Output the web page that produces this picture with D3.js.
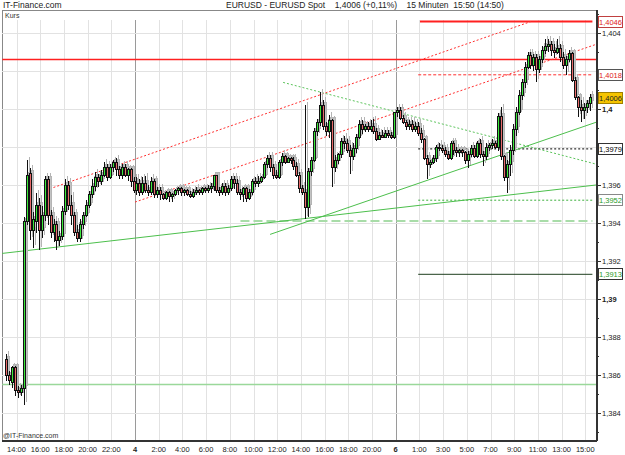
<!DOCTYPE html>
<html lang="de">
<head>
<meta charset="utf-8">
<title>EURUSD 15 Minuten</title>
<script src="https://d3js.org/d3.v7.min.js"></script>
<style>
  body { margin: 0; background: #fff; }
  text { font-family: "Liberation Sans", Arial, sans-serif; }
</style>
</head>
<body>
<script>
// 15-minute bars, first bar starts day 3 13:00 (axis hours, weekend gap removed)
var barStart = 13, barStep = 0.25;

var opens = [1.3868,1.3860,1.3856,1.3864,1.3852,1.3851,1.3853,1.3941,1.3966,1.3936,
 1.3941,1.3949,1.3936,1.3944,1.3963,1.3944,1.3935,1.3939,1.3931,1.3933,
 1.3946,1.3960,1.3949,1.3944,1.3935,1.3932,1.3939,1.3944,1.3949,1.3955,
 1.3959,1.3964,1.3962,1.3965,1.3969,1.3964,1.3969,1.3972,1.3968,1.3965,
 1.3969,1.3965,1.3968,1.3962,1.3957,1.3961,1.3956,1.3961,1.3957,1.3956,
 1.3962,1.3955,1.3957,1.3955,1.3953,1.3956,1.3954,1.3955,1.3957,1.3958,
 1.3956,1.3957,1.3955,1.3954,1.3956,1.3957,1.3956,1.3958,1.3957,1.3958,
 1.3959,1.3965,1.3957,1.3956,1.3959,1.3956,1.3958,1.3963,1.3961,1.3956,
 1.3955,1.3958,1.3953,1.3956,1.3962,1.3961,1.3962,1.3964,1.3971,1.3974,
 1.3969,1.3965,1.3964,1.3972,1.3975,1.3972,1.3974,1.3973,1.3970,1.3965,
 1.3958,1.3956,1.3948,1.3967,1.3973,1.3988,1.3993,1.4002,1.3991,1.3988,
 1.3994,1.3969,1.3973,1.3976,1.3983,1.3982,1.3978,1.3975,1.3979,1.3985,
 1.3992,1.3989,1.3991,1.3989,1.3991,1.3988,1.3984,1.3986,1.3985,1.3987,
 1.3986,1.3985,1.3998,1.3999,1.3995,1.3993,1.3991,1.3992,1.3989,1.3991,
 1.3987,1.3984,1.3974,1.3971,1.3972,1.3974,1.3980,1.3979,1.3978,1.3976,
 1.3974,1.3982,1.3978,1.3977,1.3978,1.3977,1.3973,1.3976,1.3979,1.3975,
 1.3982,1.3976,1.3975,1.3980,1.3981,1.3982,1.3980,1.3996,1.3975,1.3964,
 1.3971,1.3978,1.3989,1.3998,1.4007,1.4014,1.4022,1.4028,1.4023,1.4027,
 1.4021,1.4026,1.4031,1.4033,1.4034,1.4031,1.4030,1.4032,1.4027,1.4023,
 1.4026,1.4029,1.4015,1.4006,1.4001,1.3999,1.4001,1.4003];

var highs = [1.3871,1.3862,1.3865,1.3865,1.3854,1.3855,1.3943,1.3973,1.3969,1.3946,
 1.3956,1.3953,1.3949,1.3965,1.3965,1.3947,1.3942,1.3941,1.3936,1.3949,
 1.3963,1.3962,1.3955,1.3946,1.3939,1.3942,1.3946,1.3952,1.3957,1.3963,
 1.3967,1.3966,1.3968,1.3972,1.3971,1.3971,1.3973,1.3974,1.3970,1.3971,
 1.3971,1.3969,1.3969,1.3964,1.3964,1.3963,1.3964,1.3965,1.3960,1.3964,
 1.3963,1.3959,1.3959,1.3956,1.3957,1.3957,1.3956,1.3958,1.3959,1.3959,
 1.3958,1.3958,1.3957,1.3958,1.3959,1.3958,1.3959,1.3959,1.3960,1.3961,
 1.3965,1.3965,1.3959,1.3961,1.3961,1.3960,1.3965,1.3965,1.3963,1.3958,
 1.3959,1.3959,1.3958,1.3963,1.3964,1.3965,1.3965,1.3972,1.3976,1.3976,
 1.3971,1.3968,1.3973,1.3977,1.3976,1.3975,1.3975,1.3975,1.3972,1.3967,
 1.3960,1.4002,1.3969,1.3975,1.3990,1.3995,1.4009,1.4005,1.3993,1.3997,
 1.3995,1.3976,1.3977,1.3985,1.3986,1.3984,1.3981,1.3982,1.3987,1.3994,
 1.3994,1.3992,1.3993,1.3994,1.3995,1.3990,1.3988,1.3989,1.3989,1.3989,
 1.3988,1.3998,1.4001,1.4001,1.3997,1.3994,1.3994,1.3994,1.3993,1.3993,
 1.3990,1.3985,1.3976,1.3973,1.3976,1.3981,1.3982,1.3981,1.3980,1.3978,
 1.3983,1.3983,1.3980,1.3979,1.3979,1.3978,1.3978,1.3981,1.3981,1.3983,
 1.3984,1.3978,1.3982,1.3982,1.3984,1.3983,1.3998,1.4001,1.3976,1.3973,
 1.3981,1.3992,1.4001,1.4010,1.4016,1.4025,1.4030,1.4030,1.4029,1.4029,
 1.4028,1.4033,1.4037,1.4037,1.4036,1.4034,1.4037,1.4034,1.4030,1.4028,
 1.4031,1.4030,1.4017,1.4007,1.4005,1.4003,1.4005,1.4008];

var lows = [1.3857,1.3855,1.3853,1.3849,1.3848,1.3849,1.3844,1.3939,1.3931,1.3927,
 1.3935,1.3926,1.3932,1.3941,1.3939,1.3932,1.3930,1.3926,1.3928,1.3931,
 1.3944,1.3947,1.3939,1.3933,1.3930,1.3930,1.3937,1.3943,1.3948,1.3953,
 1.3957,1.3959,1.3960,1.3964,1.3962,1.3963,1.3967,1.3965,1.3963,1.3963,
 1.3964,1.3962,1.3959,1.3956,1.3955,1.3954,1.3955,1.3956,1.3954,1.3955,
 1.3953,1.3953,1.3952,1.3952,1.3952,1.3951,1.3951,1.3954,1.3955,1.3954,
 1.3954,1.3954,1.3953,1.3953,1.3955,1.3955,1.3955,1.3956,1.3956,1.3956,
 1.3957,1.3956,1.3954,1.3955,1.3954,1.3955,1.3957,1.3958,1.3955,1.3952,
 1.3951,1.3951,1.3952,1.3955,1.3959,1.3959,1.3961,1.3963,1.3969,1.3967,
 1.3963,1.3963,1.3963,1.3970,1.3971,1.3972,1.3971,1.3968,1.3964,1.3956,
 1.3955,1.3942,1.3943,1.3965,1.3972,1.3986,1.3991,1.3989,1.3986,1.3985,
 1.3959,1.3967,1.3971,1.3974,1.3979,1.3977,1.3966,1.3973,1.3977,1.3984,
 1.3987,1.3988,1.3988,1.3988,1.3987,1.3983,1.3984,1.3985,1.3985,1.3985,
 1.3984,1.3984,1.3996,1.3994,1.3992,1.3989,1.3989,1.3988,1.3988,1.3986,
 1.3982,1.3973,1.3963,1.3969,1.3971,1.3972,1.3978,1.3977,1.3975,1.3973,
 1.3973,1.3976,1.3975,1.3975,1.3975,1.3971,1.3969,1.3975,1.3974,1.3974,
 1.3974,1.3970,1.3973,1.3978,1.3979,1.3979,1.3978,1.3973,1.3962,1.3956,
 1.3965,1.3976,1.3986,1.3997,1.4005,1.4011,1.4021,1.4021,1.4020,1.4014,
 1.4019,1.4024,1.4029,1.4030,1.4028,1.4027,1.4029,1.4025,1.4021,1.4018,
 1.4025,1.4014,1.4005,1.3996,1.3993,1.3995,1.3998,1.3999];

var closes = [1.3860,1.3857,1.3864,1.3852,1.3851,1.3853,1.3941,1.3965,1.3936,1.3942,
 1.3949,1.3936,1.3944,1.3963,1.3944,1.3935,1.3939,1.3931,1.3933,1.3946,
 1.3960,1.3949,1.3944,1.3935,1.3932,1.3939,1.3944,1.3949,1.3955,1.3959,
 1.3964,1.3962,1.3965,1.3969,1.3964,1.3969,1.3972,1.3968,1.3965,1.3969,
 1.3965,1.3968,1.3962,1.3957,1.3961,1.3956,1.3961,1.3957,1.3956,1.3962,
 1.3955,1.3957,1.3955,1.3953,1.3956,1.3954,1.3955,1.3957,1.3958,1.3956,
 1.3957,1.3955,1.3954,1.3956,1.3957,1.3956,1.3958,1.3957,1.3958,1.3959,
 1.3965,1.3957,1.3956,1.3959,1.3956,1.3958,1.3963,1.3961,1.3956,1.3955,
 1.3958,1.3953,1.3956,1.3962,1.3961,1.3962,1.3964,1.3971,1.3974,1.3969,
 1.3965,1.3964,1.3972,1.3975,1.3972,1.3974,1.3973,1.3970,1.3965,1.3958,
 1.3956,1.3948,1.3967,1.3973,1.3988,1.3993,1.4002,1.3991,1.3988,1.3994,
 1.3969,1.3973,1.3976,1.3983,1.3982,1.3978,1.3975,1.3979,1.3985,1.3992,
 1.3989,1.3991,1.3989,1.3991,1.3988,1.3984,1.3986,1.3985,1.3987,1.3986,
 1.3985,1.3998,1.3999,1.3995,1.3993,1.3991,1.3992,1.3989,1.3991,1.3987,
 1.3984,1.3974,1.3971,1.3972,1.3974,1.3980,1.3979,1.3978,1.3976,1.3974,
 1.3982,1.3978,1.3977,1.3978,1.3977,1.3973,1.3976,1.3979,1.3975,1.3982,
 1.3976,1.3975,1.3980,1.3981,1.3982,1.3980,1.3996,1.3975,1.3964,1.3971,
 1.3978,1.3989,1.3998,1.4007,1.4014,1.4022,1.4028,1.4023,1.4027,1.4021,
 1.4026,1.4031,1.4033,1.4034,1.4031,1.4030,1.4032,1.4027,1.4023,1.4026,
 1.4029,1.4015,1.4006,1.4001,1.3999,1.4001,1.4003,1.4006];

// x axis labels (axis hours -> label)
var xTickHours  = [14,16,18,20,22,24,26,28,30,32,34,36,38,40,42,44,46,48,50,52,54,56,58,60,62];
var xTickLabels = ["14:00","16:00","18:00","20:00","22:00","4","2:00","4:00","6:00","8:00","10:00","12:00",
                   "14:00","16:00","18:00","20:00","6","1:00","3:00","5:00","7:00","9:00","11:00","13:00","15:00"];
var dayBreaks = [24, 46];

// y axis
var yMajor = [1.384,1.386,1.388,1.39,1.392,1.394,1.396,1.398,1.4,1.402,1.404];
var yMinor = [1.383,1.385,1.387,1.389,1.391,1.393,1.395,1.397,1.399,1.401,1.403,1.405];

// drawn trend lines: [hour1, price1, hour2, price2]
var trendLines = [
  {name: "channelTop",    p: [16.8, 1.3958, 57.4, 1.4046], color: "#ff3030", dash: "2,2", w: 1},
  {name: "channelBottom", p: [24.0, 1.3951, 62.9, 1.4034], color: "#ff3030", dash: "2,2", w: 1},
  {name: "greenFalling",  p: [36.5, 1.4014, 62.9, 1.3971], color: "#5cc45c", dash: "2,2", w: 1},
  {name: "greenSteep",    p: [35.4, 1.3934, 62.9, 1.3993], color: "#4cbf4c", dash: null,  w: 1},
  {name: "greenLong",     p: [12.8, 1.3924, 62.9, 1.3960], color: "#4cbf4c", dash: null,  w: 1}
];

// horizontal lines: price, start hour, end hour
var levels = [
  {price: 1.4046, from: 48.05, to: 62.6, color: "#ff2020", dash: null,  w: 2,   label: "1,4046", text: "#e02020", border: "#c04040"},
  {price: 1.4026, from: 12.8,  to: 62.9, color: "#ff2020", dash: null,  w: 1.5, label: null},
  {price: 1.4018, from: 47.9,  to: 62.6, color: "#ff3030", dash: "3,2", w: 1,   label: "1,4018", text: "#e02020", border: "#555"},
  {price: 1.3979, from: 47.9,  to: 62.6, color: "#000",    dash: "2,2", w: 1,   label: "1,3979", text: "#000",    border: "#333"},
  {price: 1.3952, from: 47.9,  to: 62.6, color: "#3cb03c", dash: "2,2", w: 1,   label: "1,3952", text: "#2a9a2a", border: "#888"},
  {price: 1.3941, from: 32.9,  to: 62.6, color: "#a8dca8", dash: "9,4", w: 2,   label: null},
  {price: 1.3913, from: 47.9,  to: 62.6, color: "#1f3f1f", dash: null,  w: 1,   label: "1,3913", text: "#2a9a2a", border: "#333"},
  {price: 1.3855, from: 12.8,  to: 62.9, color: "#9ad89a", dash: null,  w: 1.5, label: null}
];
var lastPrice = 1.4006;

var W = 625, H = 455;
var plot = {left: 2, right: 596, top: 10, bottom: 440};

var x = d3.scaleLinear().domain([24, 62]).range([135, 585.3]);
var y = d3.scaleLinear().domain([1.384, 1.404]).range([413, 33]);

var svg = d3.select("body").append("svg")
    .attr("width", W).attr("height", H)
    .style("display", "block");

svg.append("rect").attr("width", W).attr("height", H).attr("fill", "#fff");

svg.append("defs").append("clipPath").attr("id", "clip")
  .append("rect")
    .attr("x", plot.left).attr("y", plot.top + 10)
    .attr("width", plot.right - plot.left).attr("height", plot.bottom - plot.top - 10);

// header texts
svg.append("text").attr("x", 3).attr("y", 8).attr("font-size", 8.5).attr("fill", "#222")
    .text("IT-Finance.com");
svg.append("text").attr("x", 226).attr("y", 8).attr("font-size", 8.5).attr("fill", "#222")
    .attr("xml:space", "preserve")
    .text("EURUSD - EURUSD Spot    1,4006 (+0,11%)    15 Minuten  15:50 (14:50)");

// frame
svg.append("rect")
    .attr("x", plot.left + 0.5).attr("y", plot.top + 0.5)
    .attr("width", plot.right - plot.left).attr("height", plot.bottom - plot.top)
    .attr("fill", "#fff").attr("stroke", "#888");
svg.append("text").attr("x", 5).attr("y", 18).attr("font-size", 7).attr("fill", "#333").text("Kurs");

// grid
var grid = svg.append("g").attr("shape-rendering", "crispEdges");
grid.selectAll("line.v").data(xTickHours).enter().append("line")
    .attr("x1", function (d) { return Math.round(x(d)) + 0.5; })
    .attr("x2", function (d) { return Math.round(x(d)) + 0.5; })
    .attr("y1", plot.top + 10).attr("y2", plot.bottom)
    .attr("stroke", function (d) { return dayBreaks.indexOf(d) >= 0 ? "#9a9a9a" : "#e2e2e2"; });
grid.selectAll("line.h").data(yMajor).enter().append("line")
    .attr("x1", plot.left).attr("x2", plot.right)
    .attr("y1", function (d) { return Math.round(y(d)) + 0.5; })
    .attr("y2", function (d) { return Math.round(y(d)) + 0.5; })
    .attr("stroke", "#e2e2e2");

var area = svg.append("g").attr("clip-path", "url(#clip)");

// levels
area.selectAll("line.level").data(levels).enter().append("line")
    .attr("x1", function (d) { return x(d.from); })
    .attr("x2", function (d) { return x(d.to); })
    .attr("y1", function (d) { return y(d.price); })
    .attr("y2", function (d) { return y(d.price); })
    .attr("stroke", function (d) { return d.color; })
    .attr("stroke-width", function (d) { return d.w; })
    .attr("stroke-dasharray", function (d) { return d.dash; });

// trend lines
area.selectAll("line.trend").data(trendLines).enter().append("line")
    .attr("x1", function (d) { return x(d.p[0]); })
    .attr("y1", function (d) { return y(d.p[1]); })
    .attr("x2", function (d) { return x(d.p[2]); })
    .attr("y2", function (d) { return y(d.p[3]); })
    .attr("stroke", function (d) { return d.color; })
    .attr("stroke-width", function (d) { return d.w; })
    .attr("stroke-dasharray", function (d) { return d.dash; });

// candles
var bars = closes.map(function (c, i) {
  return {t: barStart + barStep * i + barStep / 2, o: opens[i], h: highs[i], l: lows[i], c: c};
});

function drawCandles(g, dx, dy, shadow) {
  var sel = g.selectAll("g.bar").data(bars).enter().append("g")
      .attr("transform", function (d) { return "translate(" + (Math.round(x(d.t)) + dx) + "," + dy + ")"; });
  sel.append("line")
      .attr("x1", 0.5).attr("x2", 0.5)
      .attr("y1", function (d) { return y(d.h); })
      .attr("y2", function (d) { return y(d.l); })
      .attr("stroke", shadow ? "#b4b4b4" : "#111");
  sel.append("rect")
      .attr("x", -0.5).attr("width", 2)
      .attr("y", function (d) { return y(Math.max(d.o, d.c)); })
      .attr("height", function (d) { return Math.max(1, Math.abs(y(d.o) - y(d.c))); })
      .attr("fill", function (d) {
        if (shadow) return "#c4c4c4";
        return d.c >= d.o ? "#3be83b" : "#e86a6a";
      })
      .attr("stroke", shadow ? "#b4b4b4" : "#111")
      .attr("stroke-width", 1);
}
drawCandles(area.append("g").attr("shape-rendering", "crispEdges"), 2, -3, true);
drawCandles(area.append("g").attr("shape-rendering", "crispEdges"), 0, 0, false);

// right axis
var ax = svg.append("g").attr("shape-rendering", "crispEdges");
ax.append("line").attr("x1", plot.right + 0.5).attr("x2", plot.right + 0.5)
    .attr("y1", plot.top).attr("y2", plot.bottom + 1)
    .attr("stroke", "#333").attr("stroke-width", 2);
ax.selectAll("line.ymaj").data(yMajor).enter().append("line")
    .attr("x1", plot.right).attr("x2", plot.right + 5)
    .attr("y1", function (d) { return Math.round(y(d)) + 0.5; })
    .attr("y2", function (d) { return Math.round(y(d)) + 0.5; })
    .attr("stroke", "#333");
ax.selectAll("line.ymin").data(yMinor).enter().append("line")
    .attr("x1", plot.right).attr("x2", plot.right + 3)
    .attr("y1", function (d) { return Math.round(y(d)) + 0.5; })
    .attr("y2", function (d) { return Math.round(y(d)) + 0.5; })
    .attr("stroke", "#333");

function fmt(v) {
  return String(+v.toFixed(4)).replace(".", ",");
}
svg.selectAll("text.ylab").data(yMajor).enter().append("text")
    .attr("x", plot.right + 6)
    .attr("y", function (d) { return y(d) + 3; })
    .attr("font-size", 7.5)
    .attr("font-weight", function (d) { return String(+d.toFixed(4)).length <= 4 ? "bold" : "normal"; })
    .attr("fill", "#222")
    .text(fmt);

// bottom axis
ax.append("line").attr("x1", plot.left).attr("x2", plot.right + 1)
    .attr("y1", plot.bottom + 0.5).attr("y2", plot.bottom + 0.5)
    .attr("stroke", "#333").attr("stroke-width", 2);
svg.selectAll("text.xlab").data(xTickHours).enter().append("text")
    .attr("x", function (d) { return x(d); })
    .attr("y", 452)
    .attr("text-anchor", "middle")
    .attr("font-size", 7.5)
    .attr("font-weight", function (d) { return dayBreaks.indexOf(d) >= 0 ? "bold" : "normal"; })
    .attr("fill", "#222")
    .text(function (d, i) { return xTickLabels[i]; });

// watermark
svg.append("text").attr("x", 3).attr("y", 438).attr("font-size", 7).attr("fill", "#333")
    .text("@IT-Finance.com");

// value boxes on the right
function valueBox(price, label, textColor, border, fill) {
  var g = svg.append("g").attr("transform", "translate(598," + Math.round(y(price)) + ")");
  g.append("rect").attr("x", 0.5).attr("y", -5.5).attr("width", 24).attr("height", 11)
      .attr("fill", fill || "#fff").attr("stroke", border).attr("shape-rendering", "crispEdges");
  g.append("text").attr("x", 12.5).attr("y", 3).attr("text-anchor", "middle")
      .attr("font-size", 7.5).attr("fill", textColor).text(label);
}
levels.filter(function (d) { return d.label; }).forEach(function (d) {
  valueBox(d.price, d.label, d.text, d.border);
});
valueBox(lastPrice, fmt(lastPrice), "#222", "#a08000", "#f5c400");
</script>
</body>
</html>
